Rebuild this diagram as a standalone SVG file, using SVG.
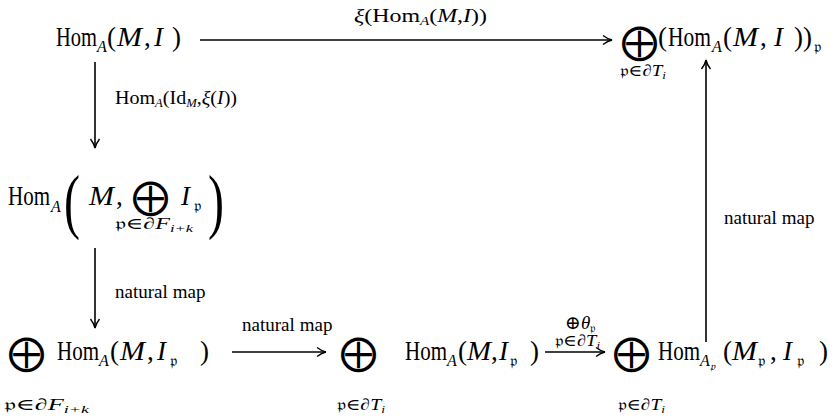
<svg xmlns="http://www.w3.org/2000/svg" width="836" height="417" viewBox="0 0 836 417">
<style>
text{font-family:"Liberation Serif","DejaVu Serif",serif;fill:#000}
.m{font-size:27px}
.i{font-style:italic}
.sb{font-size:16px}
.lb{font-size:19px}
.ix{font-size:16px}
.op{font-family:"DejaVu Sans",sans-serif;font-size:37px}
.fk{font-family:"DejaVu Serif","DejaVu Sans",serif}
.ar{fill:none;stroke:#000;stroke-width:1.6}
</style>
<defs>
<marker id="ah" viewBox="0 0 12 12" refX="11" refY="6" markerWidth="12" markerHeight="12" markerUnits="userSpaceOnUse" orient="auto">
<path d="M2,1.5 Q7,5.2 11,6 Q7,6.8 2,10.5" fill="none" stroke="#000" stroke-width="1.4"/>
</marker>
</defs>
<g id="connectors" class="ar">
<line x1="200" y1="40" x2="612" y2="40" marker-end="url(#ah)"/>
<line x1="95" y1="62" x2="95" y2="148" marker-end="url(#ah)"/>
<line x1="95" y1="248" x2="95" y2="328" marker-end="url(#ah)"/>
<line x1="232" y1="352" x2="326" y2="352" marker-end="url(#ah)"/>
<line x1="545" y1="352" x2="605" y2="352" marker-end="url(#ah)"/>
<line x1="706" y1="342" x2="706" y2="60" marker-end="url(#ah)"/>
</g>
<g id="labels">
<text class="lb" x="354" y="22" textLength="133" lengthAdjust="spacingAndGlyphs"><tspan class="i">ξ</tspan>(Hom<tspan font-size="12" class="i" dy="3">A</tspan><tspan dy="-3">(</tspan><tspan class="i">M</tspan>,<tspan class="i">I</tspan>))</text>
<text class="lb" x="115" y="104" textLength="122" lengthAdjust="spacingAndGlyphs">Hom<tspan font-size="12" class="i" dy="3">A</tspan><tspan dy="-3">(Id</tspan><tspan font-size="12" class="i" dy="3">M</tspan><tspan dy="-3">,</tspan><tspan class="i">ξ</tspan>(<tspan class="i">I</tspan>))</text>
<text class="lb" x="115" y="298">natural<tspan dx="5">map</tspan></text>
<text class="lb" x="242" y="331">natural<tspan dx="5">map</tspan></text>
<text class="lb" x="724" y="224">natural<tspan dx="5">map</tspan></text>
<text class="lb" x="565" y="329">⊕<tspan class="i">θ</tspan><tspan class="fk" font-size="12" dy="3">𝔭</tspan></text>
<text class="ix" x="555" y="346" textLength="45" lengthAdjust="spacingAndGlyphs"><tspan class="fk">𝔭</tspan>∈∂<tspan class="i">T</tspan><tspan class="i" font-size="11" dy="3">i</tspan></text>
</g>
<g id="n-top-left">
<text class="m" x="56" y="46" textLength="41" lengthAdjust="spacingAndGlyphs">Hom</text>
<text class="sb i" x="97" y="52">A</text>
<text class="m" x="107" y="46">(</text>
<text class="m i" x="117" y="46" textLength="25" lengthAdjust="spacingAndGlyphs">M</text>
<text class="m" x="144" y="46">,</text>
<text class="m i" x="154" y="46">I</text>
<text class="m" x="172" y="46">)</text>
</g>
<g id="n-top-right">
<text class="op" x="621" y="54">⨁</text>
<text class="m" x="658" y="46">(</text>
<text class="m" x="668" y="46" textLength="43" lengthAdjust="spacingAndGlyphs">Hom</text>
<text class="sb i" x="712" y="52">A</text>
<text class="m" x="723" y="46">(</text>
<text class="m i" x="733" y="46" textLength="25" lengthAdjust="spacingAndGlyphs">M</text>
<text class="m" x="760" y="46">,</text>
<text class="m i" x="774" y="46">I</text>
<text class="m" x="794" y="46">))</text>
<text class="sb fk" x="814" y="52">𝔭</text>
<text class="ix" x="620" y="76" textLength="46" lengthAdjust="spacingAndGlyphs"><tspan class="fk">𝔭</tspan>∈∂<tspan class="i">T</tspan><tspan class="i" font-size="11" dy="3">i</tspan></text>
</g>
<g id="n-mid-left">
<text class="m" x="8" y="205" textLength="42" lengthAdjust="spacingAndGlyphs">Hom</text>
<text class="sb i" x="51" y="212">A</text>
<text x="64" y="225" font-size="72" textLength="16" lengthAdjust="spacingAndGlyphs">(</text>
<text class="m i" x="89" y="205" textLength="25" lengthAdjust="spacingAndGlyphs">M</text>
<text class="m" x="116" y="205">,</text>
<text class="op" x="132" y="209">⨁</text>
<text class="m i" x="181" y="205">I</text>
<text class="sb fk" x="194" y="211">𝔭</text>
<text x="208" y="225" font-size="72" textLength="16" lengthAdjust="spacingAndGlyphs">)</text>
<text class="ix" x="115" y="229" textLength="78" lengthAdjust="spacingAndGlyphs"><tspan class="fk">𝔭</tspan>∈∂<tspan class="i">F</tspan><tspan class="i" font-size="11" dy="3">i+k</tspan></text>
</g>
<g id="n-bottom-left">
<text class="op" x="8" y="365">⨁</text>
<text class="m" x="57" y="360" textLength="42" lengthAdjust="spacingAndGlyphs">Hom</text>
<text class="sb i" x="99" y="366">A</text>
<text class="m" x="110" y="360">(</text>
<text class="m i" x="120" y="360" textLength="25" lengthAdjust="spacingAndGlyphs">M</text>
<text class="m" x="147" y="360">,</text>
<text class="m i" x="157" y="360">I</text>
<text class="sb fk" x="170" y="366">𝔭</text>
<text class="m" x="200" y="360">)</text>
<text class="ix" x="4" y="410" textLength="85" lengthAdjust="spacingAndGlyphs"><tspan class="fk">𝔭</tspan>∈∂<tspan class="i">F</tspan><tspan class="i" font-size="11" dy="3">i+k</tspan></text>
</g>
<g id="n-bottom-mid">
<text class="op" x="340" y="365">⨁</text>
<text class="m" x="405" y="360" textLength="42" lengthAdjust="spacingAndGlyphs">Hom</text>
<text class="sb i" x="447" y="366">A</text>
<text class="m" x="458" y="360">(</text>
<text class="m i" x="467" y="360" textLength="24" lengthAdjust="spacingAndGlyphs">M</text>
<text class="m" x="491" y="360">,</text>
<text class="m i" x="499" y="360">I</text>
<text class="sb fk" x="510" y="366">𝔭</text>
<text class="m" x="530" y="360">)</text>
<text class="ix" x="337" y="410" textLength="48" lengthAdjust="spacingAndGlyphs"><tspan class="fk">𝔭</tspan>∈∂<tspan class="i">T</tspan><tspan class="i" font-size="11" dy="3">i</tspan></text>
</g>
<g id="n-bottom-right">
<text class="op" x="613" y="365">⨁</text>
<text class="m" x="658" y="360" textLength="42" lengthAdjust="spacingAndGlyphs">Hom</text>
<text class="sb i" x="700" y="366">A<tspan class="fk" font-size="11" dy="4">𝔭</tspan></text>
<text class="m" x="723" y="360">(</text>
<text class="m i" x="732" y="360" textLength="25" lengthAdjust="spacingAndGlyphs">M</text>
<text class="sb fk" x="758" y="366">𝔭</text>
<text class="m" x="770" y="360">,</text>
<text class="m i" x="783" y="360">I</text>
<text class="sb fk" x="797" y="366">𝔭</text>
<text class="m" x="819" y="360">)</text>
<text class="ix" x="618" y="410" textLength="47" lengthAdjust="spacingAndGlyphs"><tspan class="fk">𝔭</tspan>∈∂<tspan class="i">T</tspan><tspan class="i" font-size="11" dy="3">i</tspan></text>
</g>
</svg>
